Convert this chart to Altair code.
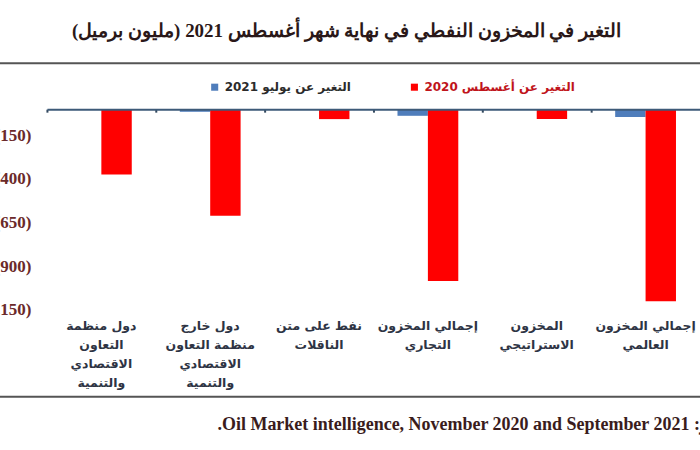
import altair as alt
import pandas as pd

# ---- data ----
categories = [
    "دول منظمة|التعاون|الاقتصادي|والتنمية",
    "دول خارج|منظمة التعاون|الاقتصادي|والتنمية",
    "نفط على متن|الناقلات",
    "إجمالي المخزون|التجاري",
    "المخزون|الاستراتيجي",
    "إجمالي المخزون|العالمي",
]
series_names = ["التغير عن يوليو 2021", "التغير عن أغسطس 2020"]
change_vs_july_2021 = [-5, -15, -1, -38, -1, -45]
change_vs_aug_2020 = [-374, -610, -57, -984, -57, -1100]
y_ticks = [-1150, -900, -650, -400, -150]
y_domain = [-1150, 0]

title_text = "\u202bالتغير في المخزون النفطي في نهاية شهر أغسطس 2021 (مليون برميل)\u202c"
source_text = "\u202bالمصدر: Oil Market intelligence, November 2020 and September 2021.\u202c"

BLUE = "#4f7dbb"
RED = "#ff0000"

rows = []
for c, v in zip(categories, change_vs_july_2021):
    rows.append({"category": c, "series": series_names[0], "value": v})
for c, v in zip(categories, change_vs_aug_2020):
    rows.append({"category": c, "series": series_names[1], "value": v})
df = pd.DataFrame(rows)

W, H = 654, 201

x_scale = alt.Scale(paddingInner=0, paddingOuter=0)
xoff = alt.XOffset("series:N", sort=series_names,
                   scale=alt.Scale(domain=series_names, paddingInner=0, paddingOuter=0.79))
y_scale = alt.Scale(domain=y_domain, nice=False, zero=False)

label_axis = alt.Axis(
    orient="bottom", domain=False, ticks=False, grid=False, title=None,
    labelExpr="split(datum.label, '|')", labelAngle=0, labelLimit=0,
    labelFont="DejaVu Sans", labelFontWeight="bold", labelFontSize=12.5,
    labelColor="#2e3444", labelLineHeight=19, labelBaseline="top", labelPadding=10,
)
zero_axis = alt.Axis(
    orient="bottom", offset=-H, labels=False, grid=False, title=None,
    ticks=True, bandPosition=0, tickSize=3, tickWidth=2, tickColor="#34495e",
    domain=True, domainColor="#3d5a78", domainWidth=2, zindex=1,
)
y_axis = alt.Axis(
    values=y_ticks, labelExpr='"(" + format(abs(datum.value), ",") + ")"',
    domain=False, ticks=False, tickSize=0, grid=False, title=None, labelPadding=16,
    labelFont="Liberation Serif", labelFontWeight="bold", labelFontSize=17,
    labelColor="#6b2a2a",
)

def legend(x, color):
    return alt.Legend(
        orient="none", legendX=x, legendY=-28, title=None,
        symbolType="square", symbolSize=50, symbolStrokeWidth=0,
        labelFont="DejaVu Sans", labelFontSize=12, labelFontWeight="bold",
        labelColor=color, labelLimit=0,
    )

blue_layer = alt.Chart(df).transform_filter(
    alt.datum.series == series_names[0]
).mark_bar().encode(
    x=alt.X("category:N", sort=categories, scale=x_scale, axis=label_axis),
    xOffset=xoff,
    y=alt.Y("value:Q", scale=y_scale, axis=y_axis),
    color=alt.Color("series:N", scale=alt.Scale(domain=[series_names[0]], range=[BLUE]),
                    legend=legend(162, "#2b2b2b")),
)

red_layer = alt.Chart(df).transform_filter(
    alt.datum.series == series_names[1]
).mark_bar().encode(
    x=alt.X("category:N", sort=categories, scale=x_scale, axis=zero_axis),
    xOffset=xoff,
    y=alt.Y("value:Q", scale=y_scale, axis=None),
    color=alt.Color("series:N", scale=alt.Scale(domain=[series_names[1]], range=[RED]),
                    legend=legend(362, "#c0141b")),
)

title_layer = alt.Chart(pd.DataFrame({"t": [title_text]})).mark_text(
    font="Liberation Serif", fontWeight="bold", fontSize=19, color="#2a1818",
    align="center", baseline="middle",
).encode(x=alt.value(300), y=alt.value(-78), text="t:N")

source_layer = alt.Chart(pd.DataFrame({"t": [source_text]})).mark_text(
    font="Liberation Serif", fontWeight="bold", fontSize=18, color="#3a1c1c",
    align="right", baseline="middle",
).encode(x=alt.value(708), y=alt.value(316), text="t:N")

top_rule = alt.Chart(pd.DataFrame({"t": [0]})).mark_rule(
    color="#555555", strokeWidth=2
).encode(x=alt.value(-47), x2=alt.value(W), y=alt.value(-46))

bottom_rule = alt.Chart(pd.DataFrame({"t": [0]})).mark_rule(
    color="#555555", strokeWidth=2
).encode(x=alt.value(-47), x2=alt.value(W), y=alt.value(288))

chart = alt.layer(
    top_rule, bottom_rule, title_layer, source_layer, blue_layer, red_layer
).resolve_scale(
    color="independent"
).resolve_axis(
    x="independent", y="independent"
).properties(
    width=W, height=H,
    autosize=alt.AutoSizeParams(type="none"),
    padding={"left": 47, "top": 109, "right": 0, "bottom": 140},
    background="white",
).configure_view(stroke=None)

chart.save("out.html", embed_options={"renderer": "svg", "actions": False})
